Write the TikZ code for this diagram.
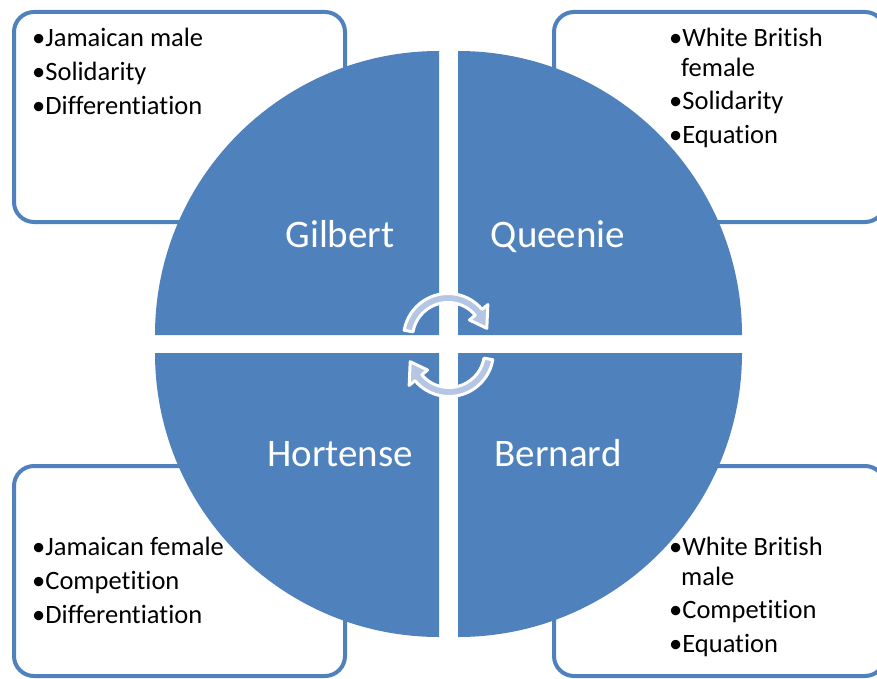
\documentclass[tikz,border=0pt]{standalone}
\usepackage{fontspec}
\setmainfont{Carlito}[Ligatures=NoCommon]
\usetikzlibrary{calc}
\definecolor{accent}{RGB}{79,129,189}
\definecolor{arrowfill}{RGB}{180,198,228}
\begin{document}
\begin{tikzpicture}[x=1pt,y=-1pt,
  infobox/.style={draw=accent, line width=4pt, rounded corners=20pt, fill=white},
  quad/.style={fill=accent},
  item/.style={anchor=base west, inner sep=0pt, font=\fontsize{26.5}{30}\selectfont, text=black},
  qlabel/.style={anchor=base, inner sep=0pt, font=\fontsize{39}{45}\selectfont, text=white},
  cyc/.style={fill=arrowfill, draw=white, line width=3pt, line join=round}]
\clip (0,0) rectangle (877,679);
\fill[white] (0,0) rectangle (877,679);
% boxes
\draw[infobox] (14,12) rectangle (345,222);
\draw[infobox] (554,12) rectangle (885,222);
\draw[infobox] (14,466) rectangle (345,676);
\draw[infobox] (554,466) rectangle (885,676);
% quadrants
\coordinate (tl) at (439,335);
\coordinate (tr) at (458,335);
\coordinate (bl) at (439,353);
\coordinate (br) at (458,353);
\fill[quad] (tl) -- +(-284,0) arc[start angle=180,end angle=270,radius=284] -- cycle;
\fill[quad] (tr) -- +(0,-284) arc[start angle=270,end angle=360,radius=284] -- cycle;
\fill[quad] (br) -- +(284,0) arc[start angle=0,end angle=90,radius=284] -- cycle;
\fill[quad] (bl) -- +(0,284) arc[start angle=90,end angle=180,radius=284] -- cycle;
% labels
\node[qlabel] (gilbert) at (340,247) {Gilbert};
\node[qlabel] (queenie) at (558,247) {Queenie};
\node[qlabel] (hortense) at (340,466) {Hortense};
\node[qlabel] (bernard) at (558,466) {Bernard};
% cycle arrows
\coordinate (c1) at (448,338);
\coordinate (c2) at (449,352);
\draw[cyc] ($(c1)+(-170:44.5)$) arc[start angle=-170,end angle=-40,radius=44.5]
  -- ($(c1)+(-40:52)$) -- ($(c1)+(-14:40)$) -- ($(c1)+(-40:28)$)
  -- ($(c1)+(-40:35.5)$) arc[start angle=-40,end angle=-170,radius=35.5] -- cycle;
\draw[cyc] ($(c2)+(10:44.5)$) arc[start angle=10,end angle=140,radius=44.5]
  -- ($(c2)+(140:52)$) -- ($(c2)+(166:40)$) -- ($(c2)+(140:28)$)
  -- ($(c2)+(140:35.5)$) arc[start angle=140,end angle=10,radius=35.5] -- cycle;
% texts
\node[item] (g1) at (32,47) {•Jamaican male};
\node[item] (g2) at (32,81) {•Solidarity};
\node[item] (g3) at (32,115) {•Differentiation};
\node[item] (q1) at (669,47) {•White British};
\node[item] (q1b) at (681,77) {female};
\node[item] (q2) at (669,110) {•Solidarity};
\node[item] (q3) at (669,144) {•Equation};
\node[item] (h1) at (32,555) {•Jamaican female};
\node[item] (h2) at (32,589) {•Competition};
\node[item] (h3) at (32,623) {•Differentiation};
\node[item] (b1) at (669,555) {•White British};
\node[item] (b1b) at (681,585) {male};
\node[item] (b2) at (669,618) {•Competition};
\node[item] (b3) at (669,652) {•Equation};
\end{tikzpicture}
\end{document}
